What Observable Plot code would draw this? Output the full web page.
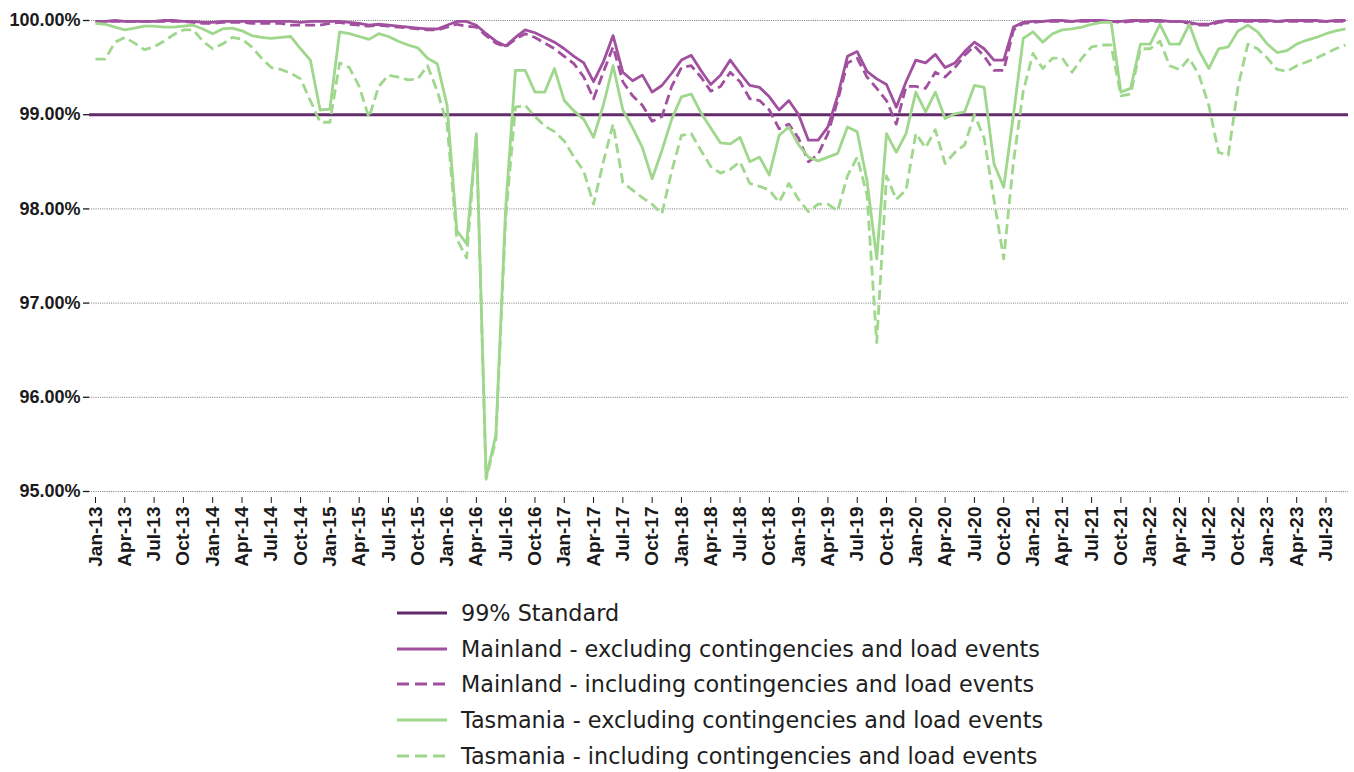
<!DOCTYPE html>
<html>
<head>
<meta charset="utf-8">
<script src="https://cdn.jsdelivr.net/npm/d3@7"></script>
<script src="https://cdn.jsdelivr.net/npm/@observablehq/plot@0.6"></script>
<style>
  html, body { margin: 0; padding: 0; background: #fff; }
  #wrap { position: relative; width: 1354px; height: 772px; }
  #legend { position: absolute; left: 397px; top: 595px; font-family: "DejaVu Sans", sans-serif; font-size: 22.3px; color: #1e1e1e; }
  .item { display: flex; align-items: center; height: 35.8px; }
  .item svg { width: 50px; height: 20px; margin-right: 14px; }
</style>
</head>
<body>
<div id="wrap"><div id="chart"></div><div id="legend"></div></div>
<script>
// ---- Data (monthly, Jan-13 .. Sep-23) ----
const monthNames = ["Jan","Feb","Mar","Apr","May","Jun","Jul","Aug","Sep","Oct","Nov","Dec"];
const years = [13,14,15,16,17,18,19,20,21,22,23];
const months = years.flatMap(y => monthNames.map(m => `${m}-${y}`)).slice(0, 129);

const standard = 99;

const mainlandExcl = [
  99.99, 99.99, 100.0, 99.99, 99.99, 99.99, 99.99, 100.0, 100.0, 99.99, 99.99, 99.98, 99.98, 99.99, 99.99, 99.99, 99.99, 99.99, 99.99, 99.99, 99.99, 99.98, 99.99, 99.99, 99.99,
  99.99, 99.98, 99.97, 99.95, 99.96, 99.95, 99.94, 99.93, 99.92, 99.91, 99.91, 99.95, 99.99, 99.99, 99.95, 99.86, 99.78, 99.73, 99.82, 99.90, 99.87, 99.82, 99.77, 99.70, 99.62, 99.55, 99.35,
  99.56, 99.84, 99.45, 99.36, 99.42, 99.24, 99.31, 99.44, 99.58, 99.63, 99.47, 99.32, 99.42, 99.58, 99.44, 99.31, 99.29, 99.19, 99.05, 99.15, 99.00, 98.73, 98.73, 98.87,
  99.20, 99.62, 99.67, 99.46, 99.38, 99.32, 99.08, 99.35, 99.58, 99.55, 99.64, 99.50, 99.55, 99.67, 99.77, 99.70, 99.58, 99.58, 99.93, 99.98,
  99.99, 99.99, 100.0, 100.0, 99.99, 100.0, 100.0, 100.0, 99.99, 99.99, 100.0, 100.0, 100.0, 100.0, 99.99, 99.99, 99.98, 99.96, 99.96, 99.99, 100.0, 100.0, 100.0, 100.0, 100.0, 99.99, 100.0, 100.0, 100.0, 100.0, 99.99, 100.0, 100.0
];
const mainlandIncl = [
  99.99, 99.99, 99.99, 99.99, 99.99, 99.99, 99.99, 99.99, 99.99, 99.99, 99.98, 99.97, 99.97, 99.98, 99.98, 99.98, 99.97, 99.97, 99.97, 99.97, 99.95, 99.95, 99.95, 99.95, 99.97,
  99.98, 99.96, 99.95, 99.94, 99.95, 99.94, 99.93, 99.92, 99.91, 99.90, 99.90, 99.93, 99.96, 99.94, 99.93, 99.84, 99.76, 99.72, 99.80, 99.86, 99.82, 99.76, 99.70, 99.62, 99.54, 99.40, 99.17,
  99.45, 99.72, 99.35, 99.20, 99.10, 98.93, 98.98, 99.30, 99.50, 99.52, 99.40, 99.25, 99.30, 99.45, 99.35, 99.17, 99.15, 99.05, 98.85, 98.90, 98.75, 98.50, 98.58, 98.80,
  99.15, 99.55, 99.60, 99.40, 99.28, 99.15, 98.90, 99.30, 99.30, 99.28, 99.45, 99.40, 99.50, 99.63, 99.73, 99.62, 99.47, 99.47, 99.90, 99.97,
  99.98, 99.99, 99.99, 99.99, 99.99, 99.99, 99.99, 99.99, 99.99, 99.98, 99.99, 99.99, 99.99, 99.99, 99.99, 99.99, 99.97, 99.95, 99.95, 99.98, 99.99, 99.99, 99.99, 99.99, 99.99, 99.99, 99.99, 99.99, 99.99, 99.99, 99.99, 99.99, 99.99
];
const tasmaniaExcl = [
  99.97, 99.96, 99.93, 99.90, 99.92, 99.94, 99.94, 99.93, 99.93, 99.94, 99.95, 99.91, 99.86, 99.91, 99.92, 99.89, 99.84, 99.82, 99.81, 99.82, 99.83, 99.70, 99.58, 99.05, 99.06,
  99.88, 99.86, 99.83, 99.80, 99.86, 99.83, 99.78, 99.74, 99.71, 99.60, 99.54, 99.10, 97.77, 97.63, 98.80, 95.15, 95.60, 98.00, 99.47, 99.47, 99.24, 99.24, 99.49, 99.15, 99.04, 98.95, 98.76,
  99.10, 99.52, 99.05, 98.86, 98.65, 98.32, 98.62, 98.95, 99.19, 99.22, 99.02, 98.86, 98.70, 98.69, 98.76, 98.50, 98.55, 98.36, 98.78, 98.87, 98.68, 98.55, 98.51, 98.55, 98.59,
  98.87, 98.82, 98.30, 97.47, 98.80, 98.60, 98.80, 99.24, 99.03, 99.24, 98.96, 99.01, 99.03, 99.31, 99.29, 98.48, 98.23, 99.00, 99.81, 99.88, 99.77, 99.86, 99.90, 99.91, 99.93, 99.96,
  99.98, 99.98, 99.24, 99.28, 99.75, 99.75, 99.96, 99.75, 99.75, 99.96, 99.68, 99.49, 99.70, 99.72, 99.89, 99.95, 99.88, 99.75, 99.66, 99.68, 99.75, 99.79, 99.82, 99.86, 99.89, 99.91
];
const tasmaniaIncl = [
  99.59, 99.59, 99.77, 99.82, 99.76, 99.69, 99.72, 99.78, 99.85, 99.90, 99.90, 99.78, 99.70, 99.75, 99.82, 99.80, 99.72, 99.60, 99.50, 99.48, 99.44, 99.38, 99.15, 98.92, 98.92,
  99.55, 99.50, 99.30, 98.97, 99.30, 99.42, 99.40, 99.37, 99.38, 99.52, 99.25, 98.90, 97.68, 97.48, 98.78, 95.13, 95.55, 97.90, 99.08, 99.10, 98.98, 98.88, 98.82, 98.72, 98.55, 98.40, 98.05,
  98.50, 98.90, 98.28, 98.20, 98.12, 98.05, 97.95, 98.40, 98.78, 98.80, 98.62, 98.45, 98.38, 98.42, 98.50, 98.27, 98.24, 98.20, 98.07, 98.27, 98.10, 97.97, 98.05, 98.05, 97.98,
  98.35, 98.55, 98.15, 96.58, 98.35, 98.10, 98.20, 98.80, 98.65, 98.84, 98.48, 98.60, 98.68, 99.00, 98.75, 98.10, 97.47, 98.50, 99.25, 99.65, 99.49, 99.60, 99.60, 99.45, 99.60, 99.72,
  99.74, 99.74, 99.20, 99.22, 99.70, 99.70, 99.78, 99.52, 99.48, 99.60, 99.42, 99.10, 98.60, 98.57, 99.30, 99.75, 99.70, 99.60, 99.48, 99.46, 99.52, 99.56, 99.60, 99.65, 99.70, 99.74
];

const yTicks = [95, 96, 97, 98, 99, 100];

// ---- Styles ----
const cStd = "#632b6c", cMain = "#a0509e", cTas = "#9fd78c";
const series = [
  {name: "99% Standard", color: cStd, dash: null, width: 3},
  {name: "Mainland - excluding contingencies and load events", values: mainlandExcl, color: cMain, dash: null, width: 2.8},
  {name: "Mainland - including contingencies and load events", values: mainlandIncl, color: cMain, dash: "10,5", width: 2.8},
  {name: "Tasmania - excluding contingencies and load events", values: tasmaniaExcl, color: cTas, dash: null, width: 2.8},
  {name: "Tasmania - including contingencies and load events", values: tasmaniaIncl, color: cTas, dash: "10,5", width: 2.8}
];

const rows = (vals) => vals.map((v, i) => ({i, v}));
const fontFamily = "'Liberation Sans', Arial, sans-serif";

const chart = Plot.plot({
  width: 1354,
  height: 600,
  marginLeft: 89,
  marginRight: 6,
  marginTop: 20,
  marginBottom: 103,
  style: {fontFamily, fontSize: "18px", fontWeight: "bold", color: "#1a1a1a", background: "#fff"},
  x: {type: "linear", domain: [0, 128], insetLeft: 6, insetRight: 3},
  y: {domain: [95, 100], insetBottom: 6},
  marks: [
    Plot.gridY(yTicks, {stroke: "#444", strokeOpacity: 0.9, strokeWidth: 0.8, strokeDasharray: "1,1.2"}),
    Plot.axisY(yTicks, {tickFormat: d => d.toFixed(2) + "%", tickSize: 6, tickPadding: 3, label: null, strokeWidth: 1.3, fontSize: 18}),
    Plot.axisX(d3.range(0, 129, 3), {tickFormat: i => months[i], tickRotate: -90, tickSize: 6, tickPadding: 3, label: null, fontSize: 19}),
    Plot.ruleY([standard], {stroke: cStd, strokeWidth: 3}),
    ...series.slice(1).map(s => Plot.line(rows(s.values), {
      x: "i", y: "v", stroke: s.color, strokeWidth: s.width,
      strokeDasharray: s.dash || undefined, strokeLinejoin: "round", strokeLinecap: "butt"
    }))
  ]
});
document.getElementById("chart").appendChild(chart);

// ---- Legend ----
const legend = document.getElementById("legend");
for (const s of series) {
  const item = document.createElement("div");
  item.className = "item";
  const dash = s.dash ? `stroke-dasharray="12,6"` : "";
  item.innerHTML = `<svg viewBox="0 0 50 20"><line x1="0" y1="10" x2="50" y2="10" stroke="${s.color}" stroke-width="3.2" ${dash}/></svg><span>${s.name}</span>`;
  legend.appendChild(item);
}
</script>
</body>
</html>
